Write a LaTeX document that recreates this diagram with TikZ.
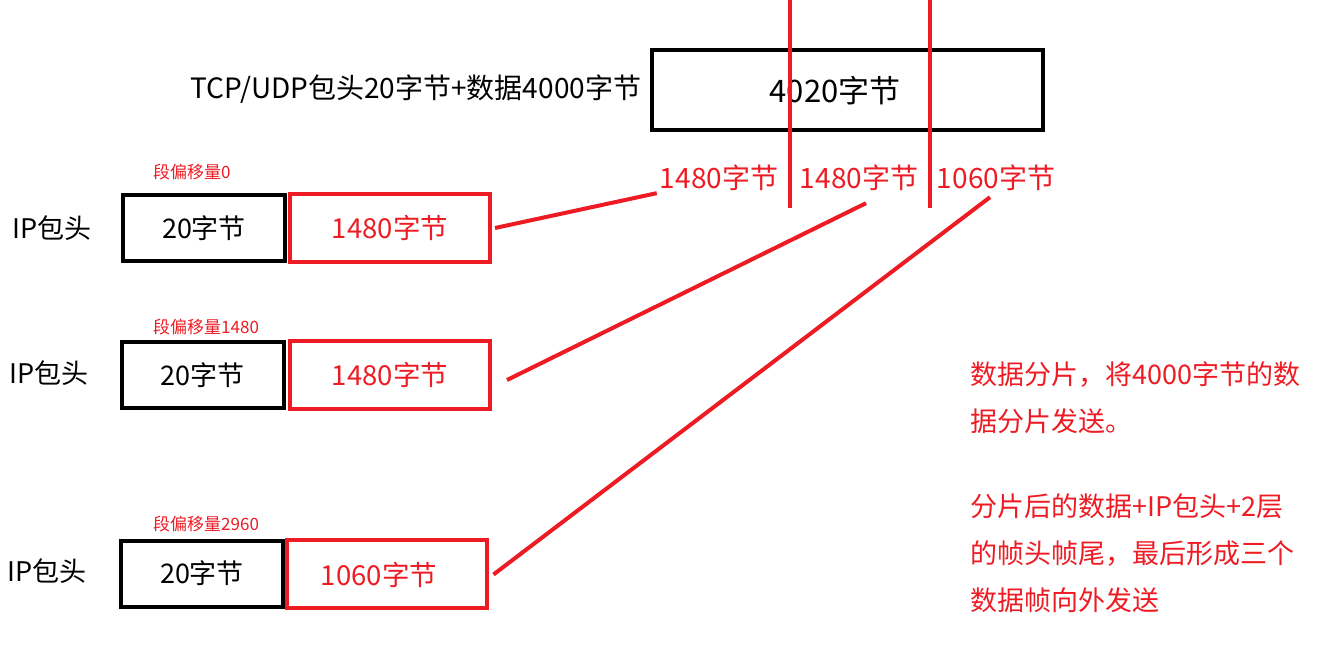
\documentclass[tikz,border=0pt]{standalone}
\usepackage{fontspec}
\setmainfont{Noto Sans CJK SC}
\usetikzlibrary{positioning}
\definecolor{cutred}{HTML}{ED1C24}
\begin{document}
\begin{tikzpicture}[x=1pt,y=-1pt,
hdr/.style={
    rectangle,
    draw=black,
    line width=4pt,
    minimum width=162pt,
    minimum height=66pt,
    inner sep=0,
    font=\fontsize{27}{30}\selectfont
    },
dat/.style={
    rectangle,
    draw=cutred,
    text=cutred,
    line width=4pt,
    minimum width=200pt,
    minimum height=68pt,
    inner sep=0,
    font=\fontsize{27.5}{30}\selectfont
    },
lbl/.style={inner sep=0, font=\fontsize{27}{30}\selectfont},
frag/.style={inner sep=0, text=cutred, font=\fontsize{28}{30}\selectfont},
off/.style={inner sep=0, anchor=west, text=cutred, font=\fontsize{17}{20}\selectfont},
note/.style={inner sep=0, anchor=north west, align=left, text=cutred, font=\fontsize{27}{47}\selectfont},
cut/.style={draw=cutred, line width=4pt}
]
\useasboundingbox (0,0) rectangle (1333,667);
\node(tcplbl) [lbl,font=\fontsize{28}{30}\selectfont] at (416,89) {TCP/UDP包头20字节+数据4000字节};
\node(seg) [hdr,minimum width=391pt,minimum height=80pt] at (847.5,90) {};
\node(segtxt) [lbl,font=\fontsize{31}{33}\selectfont] at (835,91) {4020字节};
\node(frag1) [frag] at (719,178) {1480字节};
\node(frag2) [frag] at (859,178) {1480字节};
\node(frag3) [frag] at (996,178) {1060字节};
\coordinate(cut1top) at (790,0);
\coordinate(cut1bot) at (790,208);
\coordinate(cut2top) at (930,0);
\coordinate(cut2bot) at (930,208);
\draw[cut] (cut1top) -- (cut1bot);
\draw[cut] (cut2top) -- (cut2bot);

\node(ip1) [lbl] at (52,228) {IP包头};
\node(hdr1) [hdr] at (204,228) {20字节};
\node(dat1) [dat] at (390,228) {1480字节};
\node(off1) [off] at (153,172) {段偏移量0};

\node(ip2) [lbl] at (49,373) {IP包头};
\node(hdr2) [hdr] at (202.5,375) {20字节};
\node(dat2) [dat] at (390,375) {1480字节};
\node(off2) [off] at (153,327) {段偏移量1480};

\node(ip3) [lbl] at (47,571) {IP包头};
\node(hdr3) [hdr] at (202,573.5) {20字节};
\node(dat3) [dat] at (386.5,573.5) {};
\node(dat3txt) [lbl,text=cutred,font=\fontsize{27.5}{30}\selectfont] at (379,575) {1060字节};
\node(off3) [off] at (153,524) {段偏移量2960};

\draw[cut] ([xshift=3pt]dat1.east) -- ([xshift=-3pt,yshift=-2pt]frag1.south west);
\draw[cut] ([xshift=15pt,yshift=-5pt]dat2.east) -- ([xshift=7pt,yshift=-12pt]frag2.south);
\draw[cut] ([xshift=5pt,yshift=-1pt]dat3.east) -- ([xshift=-6pt,yshift=-6pt]frag3.south);

\node(note1) [note] at (970,361) {数据分片，将4000字节的数\\据分片发送。};
\node(note2) [note] at (970,493) {分片后的数据+IP包头+2层\\的帧头帧尾，最后形成三个\\数据帧向外发送};
\end{tikzpicture}
\end{document}
